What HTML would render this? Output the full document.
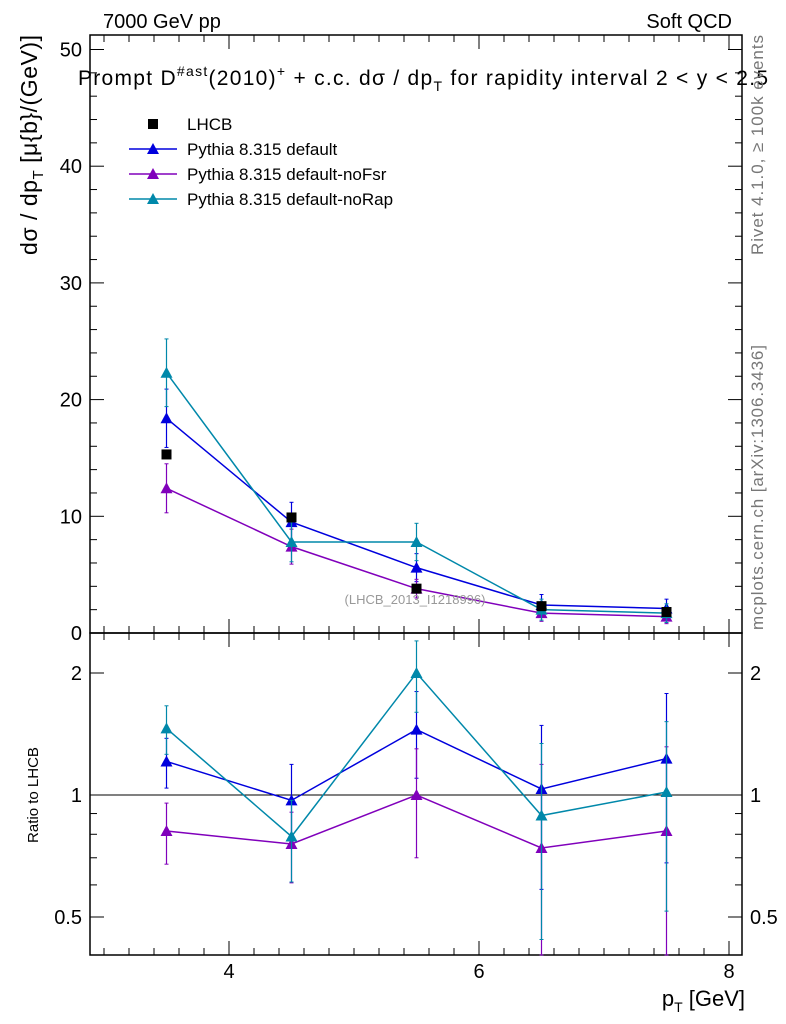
<!DOCTYPE html>
<html><head><meta charset="utf-8"><style>
body{margin:0;background:#fff;}
svg{display:block;font-family:"Liberation Sans",sans-serif;}
</style></head><body>
<svg id="c" width="786" height="1024" xmlns="http://www.w3.org/2000/svg"></svg>
<script>
const xCats=[3.5,4.5,5.5,6.5,7.5];
const dataVals=[15.3,9.9,3.8,2.3,1.8];
const defVals=[18.4,9.5,5.6,2.4,2.1];
const defErr=[2.5,1.7,1.2,0.9,0.8];
const fsrVals=[12.4,7.4,3.8,1.7,1.4];
const fsrErr=[2.1,1.5,0.8,0.7,0.6];
const rapVals=[22.3,7.8,7.8,2.0,1.7];
const rapErr=[2.9,1.7,1.6,0.9,0.8];
const defRatio=[1.21,0.97,1.45,1.035,1.23];
const defRatioErr=[0.17,0.22,0.35,0.45,0.55];
const fsrRatio=[0.815,0.757,1.0,0.74,0.815];
const fsrRatioErr=[0.14,0.15,0.3,0.45,0.5];
const rapRatio=[1.46,0.79,2.0,0.89,1.017];
const rapRatioErr=[0.2,0.18,0.4,0.45,0.5];
const topTicks=[0,10,20,30,40,50];
const ratioTicks=[0.5,1,2];
const xTicks=[4,6,8];

const NS="http://www.w3.org/2000/svg";
const svg=document.getElementById('c');
function el(t,a,p){const e=document.createElementNS(NS,t);for(const k in a)e.setAttribute(k,a[k]);(p||svg).appendChild(e);return e;}
const X=v=>229+(v-4)*125;
const YT=v=>633-v*11.67;
const YR=v=>{const y=795-Math.log2(v)*122;return Math.min(955,Math.max(633,y));};
const L=90,R=742;

let f1=el('rect',{x:L,y:35,width:R-L,height:598,fill:'none',stroke:'#000','stroke-width':1.5});

let f2=el('rect',{x:L,y:633,width:R-L,height:322,fill:'none',stroke:'#000','stroke-width':1.5});


for(let v=3;v<=8.1;v+=0.2){const x=X(v);if(x<L||x>R)continue;const major=Math.abs(v-Math.round(v))<0.01&&Math.round(v)%2==0;const len=major?14:7;
[[35,1],[633,-1],[633,1],[955,-1]].forEach(([y0,d])=>el('line',{x1:x,x2:x,y1:y0,y2:y0+d*len,stroke:'#000'}));}
xTicks.forEach(v=>{const t=el('text',{x:X(v),y:978,'text-anchor':'middle','font-size':20});t.textContent=v;
});
for(let v=0;v<=51;v+=2){const y=YT(v);const major=v%10==0;const len=major?14:7;
el('line',{x1:L,x2:L+len,y1:y,y2:y,stroke:'#000'});el('line',{x1:R,x2:R-len,y1:y,y2:y,stroke:'#000'});}
topTicks.forEach(v=>{const t=el('text',{x:82,y:YT(v)+7,'text-anchor':'end','font-size':20});t.textContent=v;
});
[0.4,0.5,0.6,0.7,0.8,0.9,1,2].forEach(v=>{const y=YR(v);const major=ratioTicks.includes(v);const len=major?14:7;
el('line',{x1:L,x2:L+len,y1:y,y2:y,stroke:'#000'});el('line',{x1:R,x2:R-len,y1:y,y2:y,stroke:'#000'});});
ratioTicks.forEach(v=>{let t=el('text',{x:82,y:YR(v)+7,'text-anchor':'end','font-size':20});t.textContent=v;

t=el('text',{x:750,y:YR(v)+7,'font-size':20});t.textContent=v;
});
el('line',{x1:L,x2:R,y1:795,y2:795,stroke:'#000'});

function tri(x,y,c,g){el('polygon',{points:`${x-6},${y+5} ${x+6},${y+5} ${x},${y-6}`,fill:c},g);}
function series(name,vals,errs,Y,c){
  const g=el('g',{});
  el('polyline',{points:xCats.map((x,i)=>X(x)+','+Y(vals[i])).join(' '),fill:'none',stroke:c,'stroke-width':1.5},g);
  xCats.forEach((x,i)=>{const y1=Y(vals[i]+errs[i]),y2=Y(Math.max(0.01,vals[i]-errs[i]));
    el('line',{x1:X(x),x2:X(x),y1:y1,y2:y2,stroke:c,'stroke-width':1.2},g);
    el('line',{x1:X(x)-2,x2:X(x)+2,y1:y1,y2:y1,stroke:c},g);el('line',{x1:X(x)-2,x2:X(x)+2,y1:y2,y2:y2,stroke:c},g);
    tri(X(x),Y(vals[i]),c,g);});
}
const cD='#0000dd',cF='#8000bb',cR='#0088aa';
series('default-series',defVals,defErr,YT,cD);
series('nofsr-series',fsrVals,fsrErr,YT,cF);
series('norap-series',rapVals,rapErr,YT,cR);
const dg=el('g',{});
xCats.forEach((x,i)=>el('rect',{x:X(x)-5,y:YT(dataVals[i])-5,width:10,height:10,fill:'#000'},dg));
series('default-ratio',defRatio,defRatioErr,YR,cD);
series('nofsr-ratio',fsrRatio,fsrRatioErr,YR,cF);
series('norap-ratio',rapRatio,rapRatioErr,YR,cR);

function txt(x,y,s,size,name,extra){const t=el('text',Object.assign({x:x,y:y,'font-size':size},extra||{}));t.innerHTML=s;
return t;}
txt(103,28,'7000 GeV pp',20,'energy-label');
txt(732,28,'Soft QCD',20,'category-label',{'text-anchor':'end'});
txt(78,85,'Prompt D<tspan font-size="14" dy="-9">#ast</tspan><tspan dy="9">(2010)</tspan><tspan font-size="14" dy="-9">+</tspan><tspan dy="9"> + c.c.  dσ / dp</tspan><tspan font-size="14" dy="6">T</tspan><tspan dy="-6"> for rapidity interval 2 &lt; y &lt; 2.5</tspan>',21,'plot-title',{textLength:690,lengthAdjust:'spacing'});
txt(745,1006,'p<tspan font-size="14" dy="6">T</tspan><tspan dy="-6"> [GeV]</tspan>',22,'x-axis-title',{'text-anchor':'end'});
txt(0,0,'dσ / dp<tspan font-size="15" dy="6">T</tspan><tspan dy="-6"> [μ{b}/(GeV)]</tspan>',23,'y-axis-title',{'text-anchor':'end',transform:'translate(37,35) rotate(-90)',textLength:220});
txt(0,0,'Ratio to LHCB',15,'ratio-axis-title',{'text-anchor':'middle',transform:'translate(38,795) rotate(-90)'});
txt(0,0,'Rivet 4.1.0, ≥ 100k events',17,'rivet-label',{'text-anchor':'end',fill:'#777',transform:'translate(763,35) rotate(-90)',textLength:220});
txt(0,0,'mcplots.cern.ch [arXiv:1306.3436]',17,'mcplots-label',{'text-anchor':'end',fill:'#777',transform:'translate(763,345) rotate(-90)',textLength:285});
txt(415,604,'(LHCB_2013_I1218996)',13,'analysis-id',{'text-anchor':'middle',fill:'#999'});
const items=[['LHCB','#000',null],['Pythia 8.315 default',cD,1],['Pythia 8.315 default-noFsr',cF,1],['Pythia 8.315 default-noRap',cR,1]];
items.forEach((it,i)=>{const y=124+i*25;const g=el('g',{});
  if(it[2]){el('line',{x1:129,x2:177,y1:y,y2:y,stroke:it[1],'stroke-width':1.5},g);tri(153,y,it[1],g);}
  else el('rect',{x:148,y:y-5,width:10,height:10,fill:'#000'},g);
  const t=el('text',{x:187,y:y+6,'font-size':17},g);t.textContent=it[0];});
</script>
</body></html>
